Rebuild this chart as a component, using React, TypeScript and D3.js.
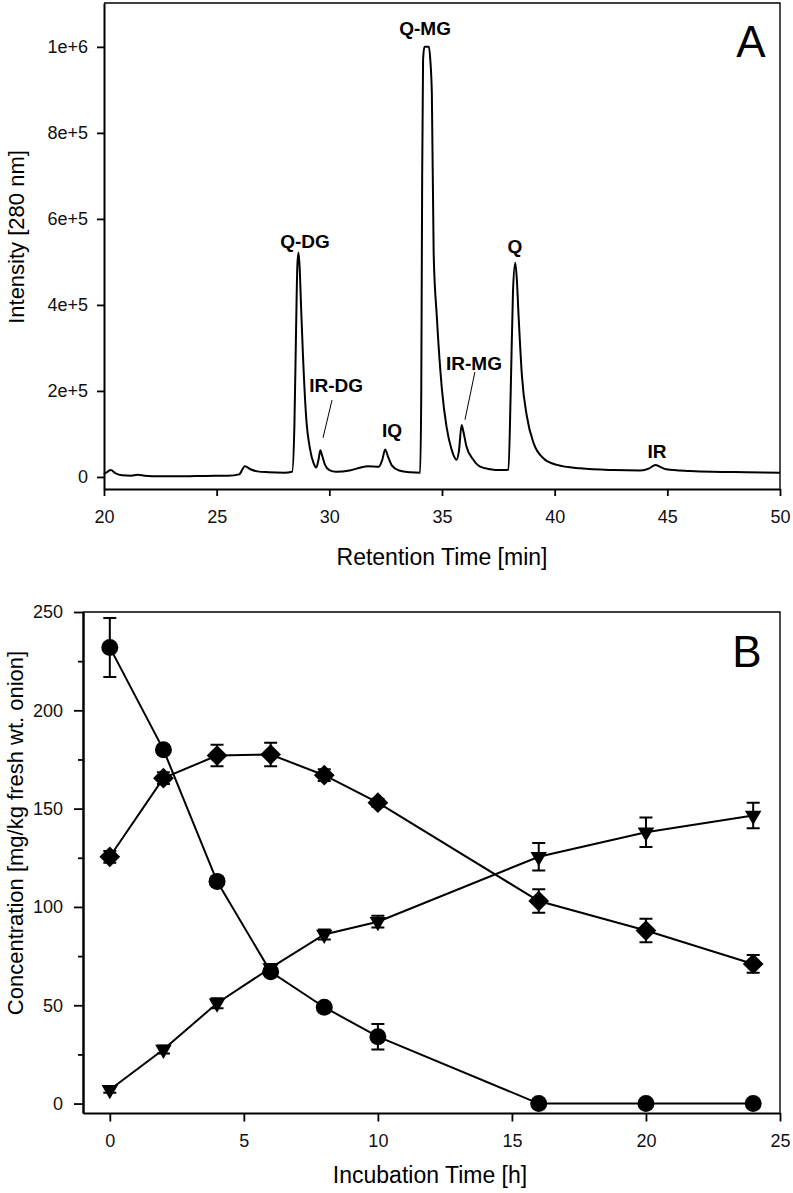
import { useEffect, useRef } from "react";
import * as d3 from "d3";

// ---------- Panel A: chromatogram (280 nm) ----------
const chromTime = [
  20.0, 20.15, 20.3, 20.5, 20.8, 21.2, 21.5, 21.8, 22.5, 23.5, 24.5, 25.5, 26.0, 26.25, 26.5, 26.8,
  27.3, 28.0, 28.35, 28.45, 28.52, 28.58, 28.63, 28.68, 28.75, 28.82, 28.97, 29.15, 29.3, 29.42,
  29.52, 29.6, 29.68, 29.81, 30.0, 30.3, 30.9, 31.4, 31.7, 32.2, 32.35, 32.48, 32.6, 32.77, 33.1,
  33.6, 34.03, 34.08, 34.12, 34.16, 34.22, 34.42, 34.48, 34.55, 34.63, 34.77, 35.0, 35.2, 35.43,
  35.65, 35.75, 35.87, 35.95, 36.09, 36.39, 36.69, 37.14, 37.6, 37.95, 38.05, 38.15, 38.25, 38.32,
  38.4, 38.55, 38.77, 39.07, 39.51, 40.1, 41.14, 42.62, 43.8, 44.2, 44.47, 44.7, 44.95, 46.0, 47.0,
  48.5, 50.0,
];
const chromIntensity = [
  7000, 12000, 16000, 9000, 4000, 3000, 5000, 3000, 1500, 1500, 2500, 3000, 6000, 25000, 18000, 13000,
  11000, 10000, 12000, 120000, 330000, 490000, 522000, 490000, 390000, 295000, 140000, 63000, 32000, 22000,
  40000, 62000, 50000, 28000, 16000, 12000, 15000, 22000, 25000, 24000, 40000, 64000, 48000, 27000, 15000,
  11000, 10000, 200000, 700000, 970000, 1000000, 1000000, 970000, 890000, 520000, 373000, 202000, 117000, 63000,
  40000, 60000, 121000, 105000, 70000, 40000, 24000, 18000, 16000, 17000, 200000, 430000, 498000, 460000,
  373000, 233000, 140000, 78000, 43000, 28000, 20000, 16000, 15000, 20000, 28000, 23000, 18000, 14000, 12000,
  11000, 10000,
];
const retentionTicks = [20, 25, 30, 35, 40, 45, 50];
const intensityTicks = [0, 2e5, 4e5, 6e5, 8e5, 1e6];
const intensityTickLabels = ["0", "2e+5", "4e+5", "6e+5", "8e+5", "1e+6"];

// peak annotations (label anchor in data units)
const peakNames = ["Q-DG", "IR-DG", "IQ", "Q-MG", "IR-MG", "Q", "IR"];
const peakLabelTime = [28.92, 30.3, 32.78, 34.25, 36.42, 38.24, 44.54];
const peakLabelIntensity = [533000, 198000, 93000, 1028000, 249000, 521000, 44000];
// leader lines: [t0, I0, t1, I1]
const leaderLines = [
  [30.12, 179000, 29.72, 91000],
  [36.46, 244000, 36.02, 133000],
];

// ---------- Panel B: incubation time course ----------
const incubationTime = [0, 2, 4, 6, 8, 10, 16, 20, 24];
const circleMean = [232, 180, 113, 67, 49, 34, 0, 0, 0];
const circleErr = [15, 2, 2, 2, 2, 6.5, 0, 0, 0];
const diamondMean = [125.5, 165.5, 177, 177.5, 167, 153, 103, 88, 71];
const diamondErr = [3, 3, 5.5, 6, 3, 2, 6, 6, 4.5];
const triangleMean = [7, 27.5, 51, 69, 86, 92.5, 125.5, 138, 146.5];
const triangleErr = [1.5, 2, 2.5, 2, 2.5, 3, 7, 7.5, 6.5];
const timeTicks = [0, 5, 10, 15, 20, 25];
const concTicks = [0, 50, 100, 150, 200, 250];
const concMinorTicks = [25, 75, 125, 175, 225];

const W = 793;
const H = 1193;
const FONT = "'Liberation Sans', Arial, Helvetica, sans-serif";
const PA = { left: 104, right: 780, top: 3, bottom: 489 };
const PB = { left: 83, right: 780, top: 612, bottom: 1113 };

function styleAxis(g: d3.Selection<SVGGElement, unknown, null, undefined>, size = 18) {
  g.attr("font-family", FONT).attr("font-size", size);
  g.selectAll(".domain").attr("stroke", "#000").attr("stroke-width", 2);
  g.selectAll(".tick line").attr("stroke", "#000").attr("stroke-width", 1.8);
  g.selectAll(".tick text").attr("fill", "#111");
}

export default function App() {
  const svgRef = useRef<SVGSVGElement>(null);

  useEffect(() => {
    if (!svgRef.current) return;
    const svg = d3.select(svgRef.current);
    svg.selectAll("*").remove();

    // ===== Panel A =====
    const xA = d3.scaleLinear().domain([20, 50]).range([PA.left, PA.right]);
    const yA = d3.scaleLinear().domain([-28000, 1102000]).range([PA.bottom, PA.top]);
    const gA = svg.append("g");

    // frame top/right
    gA.append("path")
      .attr("d", `M${PA.left},${PA.top}H${PA.right}V${PA.bottom}`)
      .attr("fill", "none")
      .attr("stroke", "#000")
      .attr("stroke-width", 1.4);

    const axA = gA.append("g")
      .attr("transform", `translate(0,${PA.bottom})`)
      .call(d3.axisBottom(xA).tickValues(retentionTicks).tickSize(7).tickSizeOuter(0).tickPadding(14));
    styleAxis(axA);

    const ayA = gA.append("g")
      .attr("transform", `translate(${PA.left},0)`)
      .call(
        d3.axisLeft(yA)
          .tickValues(intensityTicks)
          .tickFormat((_, i) => intensityTickLabels[i])
          .tickSize(7)
          .tickSizeOuter(0)
          .tickPadding(9)
      );
    styleAxis(ayA);

    const pts = chromTime.map((t, i) => [t, chromIntensity[i]] as [number, number]);
    const line = d3.line<[number, number]>()
      .x((d) => xA(d[0]))
      .y((d) => yA(d[1]))
      .curve(d3.curveMonotoneX);
    gA.append("path")
      .datum(pts)
      .attr("d", line)
      .attr("fill", "none")
      .attr("stroke", "#000")
      .attr("stroke-width", 2)
      .attr("stroke-linejoin", "round");

    gA.selectAll(".peak")
      .data(peakNames)
      .join("text")
      .attr("class", "peak")
      .attr("x", (_, i) => xA(peakLabelTime[i]))
      .attr("y", (_, i) => yA(peakLabelIntensity[i]))
      .attr("text-anchor", "middle")
      .attr("font-family", FONT)
      .attr("font-weight", "bold")
      .attr("font-size", 19)
      .attr("fill", "#000")
      .text((d) => d);

    gA.selectAll(".leader")
      .data(leaderLines)
      .join("line")
      .attr("class", "leader")
      .attr("x1", (d) => xA(d[0]))
      .attr("y1", (d) => yA(d[1]))
      .attr("x2", (d) => xA(d[2]))
      .attr("y2", (d) => yA(d[3]))
      .attr("stroke", "#000")
      .attr("stroke-width", 1);

    gA.append("text")
      .attr("x", 751)
      .attr("y", 57)
      .attr("text-anchor", "middle")
      .attr("font-family", FONT)
      .attr("font-size", 44)
      .text("A");

    gA.append("text")
      .attr("x", (PA.left + PA.right) / 2)
      .attr("y", 565)
      .attr("text-anchor", "middle")
      .attr("font-family", FONT)
      .attr("font-size", 23)
      .text("Retention Time [min]");

    gA.append("text")
      .attr("transform", "rotate(-90)")
      .attr("x", -237)
      .attr("y", 24)
      .attr("text-anchor", "middle")
      .attr("font-family", FONT)
      .attr("font-size", 22)
      .text("Intensity [280 nm]");

    // ===== Panel B =====
    const xB = d3.scaleLinear().domain([-1, 25]).range([PB.left, PB.right]);
    const yB = d3.scaleLinear().domain([-4.8, 250]).range([PB.bottom, PB.top]);
    const gB = svg.append("g");

    gB.append("path")
      .attr("d", `M${PB.left},${PB.top}H${PB.right}V${PB.bottom}`)
      .attr("fill", "none")
      .attr("stroke", "#000")
      .attr("stroke-width", 1.4);

    const axB = gB.append("g")
      .attr("transform", `translate(0,${PB.bottom})`)
      .call(d3.axisBottom(xB).tickValues(timeTicks).tickSize(8.5).tickSizeOuter(0).tickPadding(13));
    styleAxis(axB);

    const ayB = gB.append("g")
      .attr("transform", `translate(${PB.left},0)`)
      .call(d3.axisLeft(yB).tickValues(concTicks).tickSize(9).tickSizeOuter(0).tickPadding(11));
    styleAxis(ayB);

    const ayBm = gB.append("g")
      .attr("transform", `translate(${PB.left},0)`)
      .call(d3.axisLeft(yB).tickValues(concMinorTicks).tickSize(5).tickSizeOuter(0).tickFormat(() => ""));
    styleAxis(ayBm);

    const series = [
      { mean: circleMean, err: circleErr, symbol: d3.symbolCircle, size: 227, rotate: 0 },
      { mean: diamondMean, err: diamondErr, symbol: d3.symbolSquare, size: 215, rotate: 45 },
      { mean: triangleMean, err: triangleErr, symbol: d3.symbolTriangle, size: 118, rotate: 180 },
    ];

    const lineB = d3.line<number>()
      .x((_, i) => xB(incubationTime[i]))
      .y((d) => yB(d));

    series.forEach((s) => {
      gB.append("path")
        .attr("d", lineB(s.mean))
        .attr("fill", "none")
        .attr("stroke", "#000")
        .attr("stroke-width", 2);
    });

    series.forEach((s) => {
      const eb = gB.append("g");
      incubationTime.forEach((t, i) => {
        if (s.err[i] <= 0) return;
        const x = xB(t);
        const y0 = yB(s.mean[i] - s.err[i]);
        const y1 = yB(s.mean[i] + s.err[i]);
        eb.append("path")
          .attr("d", `M${x},${y0}V${y1}M${x - 6.5},${y0}H${x + 6.5}M${x - 6.5},${y1}H${x + 6.5}`)
          .attr("fill", "none")
          .attr("stroke", "#000")
          .attr("stroke-width", 2);
      });
    });

    series.forEach((s) => {
      const sym = d3.symbol().type(s.symbol).size(s.size);
      gB.append("g")
        .selectAll("path")
        .data(s.mean)
        .join("path")
        .attr("d", sym() as string)
        .attr("transform", (d, i) => `translate(${xB(incubationTime[i])},${yB(d)}) rotate(${s.rotate})`)
        .attr("fill", "#000");
    });

    gB.append("text")
      .attr("x", 747)
      .attr("y", 667)
      .attr("text-anchor", "middle")
      .attr("font-family", FONT)
      .attr("font-size", 44)
      .text("B");

    gB.append("text")
      .attr("x", 430)
      .attr("y", 1183)
      .attr("text-anchor", "middle")
      .attr("font-family", FONT)
      .attr("font-size", 23)
      .text("Incubation Time [h]");

    gB.append("text")
      .attr("transform", "rotate(-90)")
      .attr("x", -833)
      .attr("y", 23)
      .attr("text-anchor", "middle")
      .attr("font-family", FONT)
      .attr("font-size", 22)
      .text("Concentration [mg/kg fresh wt. onion]");
  }, []);

  return (
    <svg
      ref={svgRef}
      width={W}
      height={H}
      style={{ position: "absolute", left: 0, top: 0, background: "#fff", display: "block" }}
    />
  );
}
